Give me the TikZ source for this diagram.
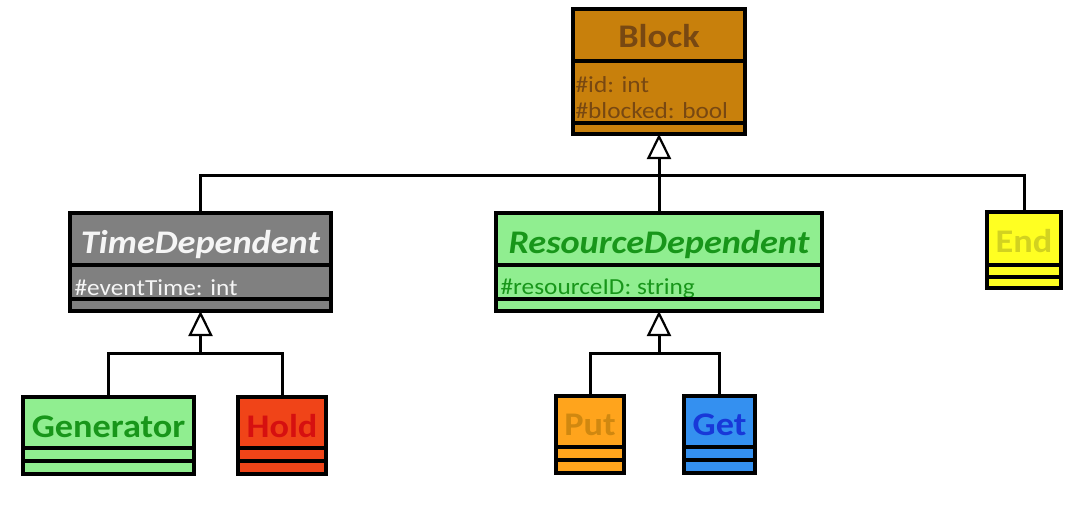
\documentclass[tikz,border=0pt]{standalone}
\usepackage{fontspec}
\setmainfont{Carlito}[FakeStretch=1.1]
\usetikzlibrary{arrows.meta}

% class box colours
\definecolor{blockfill}{RGB}{200,128,12}
\definecolor{blocktext}{RGB}{120,72,18}
\definecolor{grayfill}{RGB}{128,128,128}
\definecolor{graytext}{RGB}{245,245,245}
\definecolor{greenfill}{RGB}{144,238,144}
\definecolor{greentext}{RGB}{24,150,26}
\definecolor{holdfill}{RGB}{240,68,24}
\definecolor{holdtext}{RGB}{214,16,16}
\definecolor{putfill}{RGB}{255,164,28}
\definecolor{puttext}{RGB}{208,136,16}
\definecolor{getfill}{RGB}{52,144,240}
\definecolor{gettext}{RGB}{24,56,216}
\definecolor{endfill}{RGB}{255,255,34}
\definecolor{endtext}{RGB}{210,210,32}

% a class box: name, left, top, width, height, fill
\newcommand\umlclass[6]{\node[cls, fill=#6, minimum width=#4pt, minimum height=#5pt] (#1) at (#2,#3) {};}
% a compartment separator, given its depth below the top edge
\newcommand\compline[2]{\draw ([yshift=-#2pt]#1.north west) -- ([yshift=-#2pt]#1.north east);}

\begin{document}
\begin{tikzpicture}[x=1pt, y=-1pt, line width=3.2pt,
  cls/.style={draw=black, rectangle, inner sep=0pt, outer sep=0pt, anchor=north west},
  title/.style={anchor=base, inner sep=0pt, font=\bfseries\fontsize{33}{39}\selectfont},
  attr/.style={anchor=base west, inner sep=0pt, font=\fontsize{23}{27}\selectfont},
  inherit/.style={-{Triangle[open, length=25pt, width=24pt, line width=2.2pt]}},
  link/.style={line width=3pt}]
\useasboundingbox (0,0) rectangle (1070,520);

% ---- Block ----
\umlclass{block}{573}{9}{172}{125}{blockfill}
\node[title, text=blocktext] at ([yshift=-38pt]block.north) {Block};
\node[attr, text=blocktext] at ([xshift=1pt, yshift=-83pt]block.north west) {\#id: int};
\node[attr, text=blocktext] at ([xshift=1pt, yshift=-109pt]block.north west) {\#blocked: bool};
\compline{block}{52}
\compline{block}{114}

% ---- TimeDependent ----
\umlclass{td}{70}{213}{261}{98}{grayfill}
\node[title, text=graytext] at ([yshift=-40pt]td.north) {\itshape TimeDependent};
\node[attr, text=graytext] at ([xshift=3pt, yshift=-82pt]td.north west) {\#eventTime: int};
\compline{td}{52}
\compline{td}{86}

% ---- ResourceDependent ----
\umlclass{rd}{496}{213}{326}{98}{greenfill}
\node[title, text=greentext] at ([yshift=-40pt]rd.north) {\itshape ResourceDependent};
\node[attr, text=greentext] at ([xshift=3pt, yshift=-81pt]rd.north west) {\#resourceID: string};
\compline{rd}{52}
\compline{rd}{86}

% ---- End ----
\umlclass{end}{987}{212}{74}{76}{endfill}
\node[title, text=endtext] at ([yshift=-40pt]end.north) {End};
\compline{end}{53}
\compline{end}{65}

% ---- Generator / Hold ----
\umlclass{gen}{23}{397}{171}{77}{greenfill}
\node[title, text=greentext] at ([yshift=-40pt]gen.north) {Generator};
\compline{gen}{51}
\compline{gen}{64}

\umlclass{hold}{238}{397}{88}{77}{holdfill}
\node[title, text=holdtext] at ([yshift=-40pt]hold.north) {Hold};
\compline{hold}{51}
\compline{hold}{64}

% ---- Put / Get ----
\umlclass{put}{556}{396}{68}{77}{putfill}
\node[title, text=puttext] at ([yshift=-39pt]put.north) {Put};
\compline{put}{51}
\compline{put}{64}

\umlclass{get}{684}{396}{71}{77}{getfill}
\node[title, text=gettext] at ([yshift=-39pt]get.north) {Get};
\compline{get}{51}
\compline{get}{64}

% ---- generalisation connectors ----
\coordinate (j1) at (block.south |- 0,175);
\draw[link] (td.north) |- (j1);
\draw[link] (end.north) |- (j1);
\draw[link] (rd.north) -- (j1);
\draw[link, inherit] (j1) -- (block.south);

\coordinate (j2) at (td.south |- 0,353);
\draw[link] (gen.north) |- (j2) -| (hold.north);
\draw[link, inherit] (j2) -- (td.south);

\coordinate (j3) at (rd.south |- 0,353);
\draw[link] (put.north) |- (j3) -| (get.north);
\draw[link, inherit] (j3) -- (rd.south);
\end{tikzpicture}
\end{document}
